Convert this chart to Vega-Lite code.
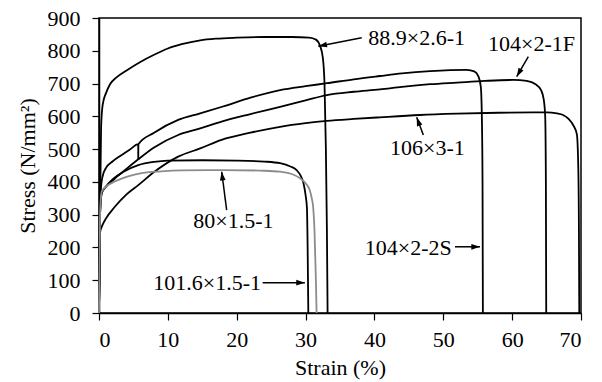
{
  "$schema": "https://vega.github.io/schema/vega-lite/v6.json",
  "width": 482,
  "height": 295,
  "autosize": {"type": "none"},
  "padding": {"left": 99, "top": 18, "right": 21, "bottom": 69},
  "background": "white",
  "config": {
    "font": "Liberation Serif",
    "view": {"stroke": "black", "strokeWidth": 1.5},
    "axis": {
      "grid": false,
      "domainColor": "black",
      "domainWidth": 1.5,
      "tickColor": "black",
      "tickWidth": 1.2,
      "tickSize": 7,
      "labelColor": "black",
      "titleColor": "black",
      "labelFont": "Liberation Serif",
      "titleFont": "Liberation Serif",
      "labelFontSize": 22,
      "titleFontSize": 22,
      "titleFontWeight": "normal",
      "labelOverlap": false
    },
    "axisY": {"labelPadding": 12, "titlePadding": 8},
    "axisX": {"labelPadding": 9, "titlePadding": 7}
  },
  "datasets": {
    "curves": [
      {"series": "88.9×2.6-1", "i": 0, "strain": 0, "stress": 0},
      {"series": "88.9×2.6-1", "i": 1, "strain": 0.15, "stress": 300},
      {"series": "88.9×2.6-1", "i": 2, "strain": 0.3, "stress": 560},
      {"series": "88.9×2.6-1", "i": 3, "strain": 0.45, "stress": 620},
      {"series": "88.9×2.6-1", "i": 4, "strain": 0.7, "stress": 652},
      {"series": "88.9×2.6-1", "i": 5, "strain": 1.0, "stress": 670},
      {"series": "88.9×2.6-1", "i": 6, "strain": 1.6, "stress": 698},
      {"series": "88.9×2.6-1", "i": 7, "strain": 2.5, "stress": 718},
      {"series": "88.9×2.6-1", "i": 8, "strain": 4, "stress": 740},
      {"series": "88.9×2.6-1", "i": 9, "strain": 6, "stress": 766},
      {"series": "88.9×2.6-1", "i": 10, "strain": 8, "stress": 788},
      {"series": "88.9×2.6-1", "i": 11, "strain": 10, "stress": 807},
      {"series": "88.9×2.6-1", "i": 12, "strain": 12, "stress": 820},
      {"series": "88.9×2.6-1", "i": 13, "strain": 14.7, "stress": 832},
      {"series": "88.9×2.6-1", "i": 14, "strain": 17, "stress": 837},
      {"series": "88.9×2.6-1", "i": 15, "strain": 20, "stress": 840},
      {"series": "88.9×2.6-1", "i": 16, "strain": 24, "stress": 842},
      {"series": "88.9×2.6-1", "i": 17, "strain": 28, "stress": 842},
      {"series": "88.9×2.6-1", "i": 18, "strain": 30.5, "stress": 840},
      {"series": "88.9×2.6-1", "i": 19, "strain": 31.5, "stress": 834},
      {"series": "88.9×2.6-1", "i": 20, "strain": 32.1, "stress": 815},
      {"series": "88.9×2.6-1", "i": 21, "strain": 32.5, "stress": 780},
      {"series": "88.9×2.6-1", "i": 22, "strain": 32.75, "stress": 700},
      {"series": "88.9×2.6-1", "i": 23, "strain": 32.95, "stress": 500},
      {"series": "88.9×2.6-1", "i": 24, "strain": 33.1, "stress": 250},
      {"series": "88.9×2.6-1", "i": 25, "strain": 33.2, "stress": 0},

      {"series": "104×2-2S", "i": 0, "strain": 0, "stress": 0},
      {"series": "104×2-2S", "i": 1, "strain": 0.15, "stress": 300},
      {"series": "104×2-2S", "i": 2, "strain": 0.25, "stress": 370},
      {"series": "104×2-2S", "i": 3, "strain": 0.5, "stress": 415},
      {"series": "104×2-2S", "i": 4, "strain": 1, "stress": 442},
      {"series": "104×2-2S", "i": 5, "strain": 2, "stress": 463},
      {"series": "104×2-2S", "i": 6, "strain": 3.3, "stress": 482},
      {"series": "104×2-2S", "i": 7, "strain": 4.5, "stress": 499},
      {"series": "104×2-2S", "i": 8, "strain": 5.7, "stress": 515},
      {"series": "104×2-2S", "i": 9, "strain": 5.7, "stress": 470},
      {"series": "104×2-2S", "i": 10, "strain": 5.72, "stress": 515},
      {"series": "104×2-2S", "i": 11, "strain": 8, "stress": 550},
      {"series": "104×2-2S", "i": 12, "strain": 11.5, "stress": 589},
      {"series": "104×2-2S", "i": 13, "strain": 14.7, "stress": 609},
      {"series": "104×2-2S", "i": 14, "strain": 18, "stress": 630},
      {"series": "104×2-2S", "i": 15, "strain": 22, "stress": 657},
      {"series": "104×2-2S", "i": 16, "strain": 26.3, "stress": 680},
      {"series": "104×2-2S", "i": 17, "strain": 30, "stress": 692},
      {"series": "104×2-2S", "i": 18, "strain": 33.1, "stress": 701},
      {"series": "104×2-2S", "i": 19, "strain": 37, "stress": 713},
      {"series": "104×2-2S", "i": 20, "strain": 40.8, "stress": 723},
      {"series": "104×2-2S", "i": 21, "strain": 44, "stress": 731},
      {"series": "104×2-2S", "i": 22, "strain": 48.1, "stress": 738},
      {"series": "104×2-2S", "i": 23, "strain": 51, "stress": 741},
      {"series": "104×2-2S", "i": 24, "strain": 53.4, "stress": 742},
      {"series": "104×2-2S", "i": 25, "strain": 54.5, "stress": 737},
      {"series": "104×2-2S", "i": 26, "strain": 55.1, "stress": 722},
      {"series": "104×2-2S", "i": 27, "strain": 55.45, "stress": 690},
      {"series": "104×2-2S", "i": 28, "strain": 55.6, "stress": 600},
      {"series": "104×2-2S", "i": 29, "strain": 55.7, "stress": 400},
      {"series": "104×2-2S", "i": 30, "strain": 55.75, "stress": 0},

      {"series": "104×2-1F", "i": 0, "strain": 0, "stress": 0},
      {"series": "104×2-1F", "i": 1, "strain": 0.15, "stress": 300},
      {"series": "104×2-1F", "i": 2, "strain": 0.4, "stress": 368},
      {"series": "104×2-1F", "i": 3, "strain": 1, "stress": 385},
      {"series": "104×2-1F", "i": 4, "strain": 2.3, "stress": 410},
      {"series": "104×2-1F", "i": 5, "strain": 4, "stress": 440},
      {"series": "104×2-1F", "i": 6, "strain": 5.7, "stress": 469},
      {"series": "104×2-1F", "i": 7, "strain": 8, "stress": 505},
      {"series": "104×2-1F", "i": 8, "strain": 11.5, "stress": 543},
      {"series": "104×2-1F", "i": 9, "strain": 14.7, "stress": 563},
      {"series": "104×2-1F", "i": 10, "strain": 17.8, "stress": 584},
      {"series": "104×2-1F", "i": 11, "strain": 22, "stress": 607},
      {"series": "104×2-1F", "i": 12, "strain": 26.3, "stress": 629},
      {"series": "104×2-1F", "i": 13, "strain": 30, "stress": 649},
      {"series": "104×2-1F", "i": 14, "strain": 33.1, "stress": 665},
      {"series": "104×2-1F", "i": 15, "strain": 37, "stress": 675},
      {"series": "104×2-1F", "i": 16, "strain": 40.8, "stress": 682},
      {"series": "104×2-1F", "i": 17, "strain": 44, "stress": 690},
      {"series": "104×2-1F", "i": 18, "strain": 48.1, "stress": 698},
      {"series": "104×2-1F", "i": 19, "strain": 52, "stress": 703},
      {"series": "104×2-1F", "i": 20, "strain": 56, "stress": 708},
      {"series": "104×2-1F", "i": 21, "strain": 60.2, "stress": 711},
      {"series": "104×2-1F", "i": 22, "strain": 62.1, "stress": 708},
      {"series": "104×2-1F", "i": 23, "strain": 63.4, "stress": 698},
      {"series": "104×2-1F", "i": 24, "strain": 64.2, "stress": 680},
      {"series": "104×2-1F", "i": 25, "strain": 64.6, "stress": 650},
      {"series": "104×2-1F", "i": 26, "strain": 64.8, "stress": 600},
      {"series": "104×2-1F", "i": 27, "strain": 64.9, "stress": 400},
      {"series": "104×2-1F", "i": 28, "strain": 64.95, "stress": 0},

      {"series": "106×3-1", "i": 0, "strain": 0, "stress": 0},
      {"series": "106×3-1", "i": 1, "strain": 0.15, "stress": 245},
      {"series": "106×3-1", "i": 2, "strain": 0.5, "stress": 268},
      {"series": "106×3-1", "i": 3, "strain": 1, "stress": 288},
      {"series": "106×3-1", "i": 4, "strain": 2.3, "stress": 324},
      {"series": "106×3-1", "i": 5, "strain": 4, "stress": 362},
      {"series": "106×3-1", "i": 6, "strain": 5.7, "stress": 390},
      {"series": "106×3-1", "i": 7, "strain": 8, "stress": 430},
      {"series": "106×3-1", "i": 8, "strain": 11.5, "stress": 477},
      {"series": "106×3-1", "i": 9, "strain": 14.7, "stress": 502},
      {"series": "106×3-1", "i": 10, "strain": 17.8, "stress": 528},
      {"series": "106×3-1", "i": 11, "strain": 22, "stress": 550},
      {"series": "106×3-1", "i": 12, "strain": 26.3, "stress": 568},
      {"series": "106×3-1", "i": 13, "strain": 30, "stress": 579},
      {"series": "106×3-1", "i": 14, "strain": 33.1, "stress": 586},
      {"series": "106×3-1", "i": 15, "strain": 37, "stress": 592},
      {"series": "106×3-1", "i": 16, "strain": 40.8, "stress": 597},
      {"series": "106×3-1", "i": 17, "strain": 46.6, "stress": 604},
      {"series": "106×3-1", "i": 18, "strain": 52, "stress": 608},
      {"series": "106×3-1", "i": 19, "strain": 58, "stress": 611},
      {"series": "106×3-1", "i": 20, "strain": 63, "stress": 612},
      {"series": "106×3-1", "i": 21, "strain": 65, "stress": 612},
      {"series": "106×3-1", "i": 22, "strain": 66.5, "stress": 609},
      {"series": "106×3-1", "i": 23, "strain": 67.4, "stress": 604},
      {"series": "106×3-1", "i": 24, "strain": 68.2, "stress": 592},
      {"series": "106×3-1", "i": 25, "strain": 68.9, "stress": 572},
      {"series": "106×3-1", "i": 26, "strain": 69.4, "stress": 545},
      {"series": "106×3-1", "i": 27, "strain": 69.6, "stress": 450},
      {"series": "106×3-1", "i": 28, "strain": 69.7, "stress": 250},
      {"series": "106×3-1", "i": 29, "strain": 69.75, "stress": 0},

      {"series": "101.6×1.5-1", "i": 0, "strain": 0, "stress": 0},
      {"series": "101.6×1.5-1", "i": 1, "strain": 0.15, "stress": 300},
      {"series": "101.6×1.5-1", "i": 2, "strain": 0.4, "stress": 365},
      {"series": "101.6×1.5-1", "i": 3, "strain": 1, "stress": 385},
      {"series": "101.6×1.5-1", "i": 4, "strain": 2, "stress": 408},
      {"series": "101.6×1.5-1", "i": 5, "strain": 3.5, "stress": 430},
      {"series": "101.6×1.5-1", "i": 6, "strain": 5.7, "stress": 451},
      {"series": "101.6×1.5-1", "i": 7, "strain": 8, "stress": 461},
      {"series": "101.6×1.5-1", "i": 8, "strain": 10, "stress": 465},
      {"series": "101.6×1.5-1", "i": 9, "strain": 15, "stress": 466},
      {"series": "101.6×1.5-1", "i": 10, "strain": 20, "stress": 465},
      {"series": "101.6×1.5-1", "i": 11, "strain": 24, "stress": 462},
      {"series": "101.6×1.5-1", "i": 12, "strain": 26.3, "stress": 457},
      {"series": "101.6×1.5-1", "i": 13, "strain": 27.8, "stress": 447},
      {"series": "101.6×1.5-1", "i": 14, "strain": 28.7, "stress": 436},
      {"series": "101.6×1.5-1", "i": 15, "strain": 29.3, "stress": 418},
      {"series": "101.6×1.5-1", "i": 16, "strain": 29.7, "stress": 396},
      {"series": "101.6×1.5-1", "i": 17, "strain": 30.0, "stress": 360},
      {"series": "101.6×1.5-1", "i": 18, "strain": 30.2, "stress": 320},
      {"series": "101.6×1.5-1", "i": 19, "strain": 30.3, "stress": 200},
      {"series": "101.6×1.5-1", "i": 20, "strain": 30.4, "stress": 0},

      {"series": "80×1.5-1", "i": 0, "strain": 0, "stress": 0},
      {"series": "80×1.5-1", "i": 1, "strain": 0.15, "stress": 300},
      {"series": "80×1.5-1", "i": 2, "strain": 0.4, "stress": 370},
      {"series": "80×1.5-1", "i": 3, "strain": 1, "stress": 385},
      {"series": "80×1.5-1", "i": 4, "strain": 2, "stress": 398},
      {"series": "80×1.5-1", "i": 5, "strain": 4, "stress": 415},
      {"series": "80×1.5-1", "i": 6, "strain": 6, "stress": 426},
      {"series": "80×1.5-1", "i": 7, "strain": 9, "stress": 432},
      {"series": "80×1.5-1", "i": 8, "strain": 12, "stress": 435},
      {"series": "80×1.5-1", "i": 9, "strain": 18, "stress": 436},
      {"series": "80×1.5-1", "i": 10, "strain": 24, "stress": 434},
      {"series": "80×1.5-1", "i": 11, "strain": 26.3, "stress": 431},
      {"series": "80×1.5-1", "i": 12, "strain": 28, "stress": 424},
      {"series": "80×1.5-1", "i": 13, "strain": 29.2, "stress": 411},
      {"series": "80×1.5-1", "i": 14, "strain": 30, "stress": 396},
      {"series": "80×1.5-1", "i": 15, "strain": 30.6, "stress": 375},
      {"series": "80×1.5-1", "i": 16, "strain": 30.9, "stress": 350},
      {"series": "80×1.5-1", "i": 17, "strain": 31.1, "stress": 324},
      {"series": "80×1.5-1", "i": 18, "strain": 31.3, "stress": 250},
      {"series": "80×1.5-1", "i": 19, "strain": 31.5, "stress": 100},
      {"series": "80×1.5-1", "i": 20, "strain": 31.6, "stress": 0}
    ],
    "notes": [
      {"label": "88.9×2.6-1", "lx": 39.1, "ly": 839, "tx": 38.15, "ty": 840, "hx": 31.85, "hy": 814},
      {"label": "104×2-1F", "lx": 56.5, "ly": 822, "tx": 62.35, "ty": 782, "hx": 60.66, "hy": 721},
      {"label": "106×3-1", "lx": 42.26, "ly": 503, "tx": 47.1, "ty": 543, "hx": 46.14, "hy": 597},
      {"label": "80×1.5-1", "lx": 13.7, "ly": 281, "tx": 18.54, "ty": 314, "hx": 17.82, "hy": 431},
      {"label": "101.6×1.5-1", "lx": 7.89, "ly": 91.5, "tx": 23.77, "ty": 92.4, "hx": 29.9, "hy": 92.4},
      {"label": "104×2-2S", "lx": 38.6, "ly": 199, "tx": 51.7, "ty": 202, "hx": 55.33, "hy": 202}
    ]
  },
  "layer": [
    {
      "data": {"name": "curves"},
      "mark": {"type": "line", "strokeWidth": 1.8, "interpolate": "monotone"},
      "encoding": {
        "x": {"field": "strain", "type": "quantitative", "title": "Strain (%)",
              "scale": {"domain": [0, 70], "nice": false},
              "axis": {"values": [0, 10, 20, 30, 40, 50, 60, 70], "labelOverlap": false}},
        "y": {"field": "stress", "type": "quantitative", "title": "Stress (N/mm²)",
              "scale": {"domain": [0, 900], "nice": false},
              "axis": {"values": [0, 100, 200, 300, 400, 500, 600, 700, 800, 900], "labelOverlap": false, "tickCount": 10}},
        "color": {"field": "series", "type": "nominal", "legend": null,
                  "scale": {"domain": ["88.9×2.6-1", "104×2-2S", "104×2-1F", "106×3-1", "101.6×1.5-1", "80×1.5-1"],
                            "range": ["#000000", "#000000", "#000000", "#000000", "#000000", "#8c8c8c"]}},
        "order": {"field": "i", "type": "quantitative"}
      }
    },
    {
      "data": {"name": "notes"},
      "mark": {"type": "rule", "color": "black", "strokeWidth": 1.5},
      "encoding": {
        "x": {"field": "tx", "type": "quantitative", "title": "Strain (%)", "scale": {"domain": [0, 70], "nice": false}},
        "y": {"field": "ty", "type": "quantitative", "title": "Stress (N/mm²)", "scale": {"domain": [0, 900], "nice": false}},
        "x2": {"field": "hx"},
        "y2": {"field": "hy"}
      }
    },
    {
      "data": {"name": "notes"},
      "transform": [{"filter": "datum.label == '88.9×2.6-1'"}],
      "mark": {"type": "point", "shape": "M0,0L-0.33,1L0.33,1Z", "filled": true, "color": "black", "opacity": 1, "size": 300, "angle": 259},
      "encoding": {
        "x": {"field": "hx", "type": "quantitative", "title": "Strain (%)", "scale": {"domain": [0, 70], "nice": false}},
        "y": {"field": "hy", "type": "quantitative", "title": "Stress (N/mm²)", "scale": {"domain": [0, 900], "nice": false}}
      }
    },
    {
      "data": {"name": "notes"},
      "transform": [{"filter": "datum.label == '104×2-1F'"}],
      "mark": {"type": "point", "shape": "M0,0L-0.33,1L0.33,1Z", "filled": true, "color": "black", "opacity": 1, "size": 300, "angle": 210},
      "encoding": {
        "x": {"field": "hx", "type": "quantitative", "title": "Strain (%)", "scale": {"domain": [0, 70], "nice": false}},
        "y": {"field": "hy", "type": "quantitative", "title": "Stress (N/mm²)", "scale": {"domain": [0, 900], "nice": false}}
      }
    },
    {
      "data": {"name": "notes"},
      "transform": [{"filter": "datum.label == '106×3-1'"}],
      "mark": {"type": "point", "shape": "M0,0L-0.33,1L0.33,1Z", "filled": true, "color": "black", "opacity": 1, "size": 300, "angle": 340},
      "encoding": {
        "x": {"field": "hx", "type": "quantitative", "title": "Strain (%)", "scale": {"domain": [0, 70], "nice": false}},
        "y": {"field": "hy", "type": "quantitative", "title": "Stress (N/mm²)", "scale": {"domain": [0, 900], "nice": false}}
      }
    },
    {
      "data": {"name": "notes"},
      "transform": [{"filter": "datum.label == '80×1.5-1'"}],
      "mark": {"type": "point", "shape": "M0,0L-0.33,1L0.33,1Z", "filled": true, "color": "black", "opacity": 1, "size": 300, "angle": 353},
      "encoding": {
        "x": {"field": "hx", "type": "quantitative", "title": "Strain (%)", "scale": {"domain": [0, 70], "nice": false}},
        "y": {"field": "hy", "type": "quantitative", "title": "Stress (N/mm²)", "scale": {"domain": [0, 900], "nice": false}}
      }
    },
    {
      "data": {"name": "notes"},
      "transform": [{"filter": "datum.label == '101.6×1.5-1' || datum.label == '104×2-2S'"}],
      "mark": {"type": "point", "shape": "M0,0L-0.33,1L0.33,1Z", "filled": true, "color": "black", "opacity": 1, "size": 300, "angle": 90},
      "encoding": {
        "x": {"field": "hx", "type": "quantitative", "title": "Strain (%)", "scale": {"domain": [0, 70], "nice": false}},
        "y": {"field": "hy", "type": "quantitative", "title": "Stress (N/mm²)", "scale": {"domain": [0, 900], "nice": false}}
      }
    },
    {
      "data": {"name": "notes"},
      "mark": {"type": "text", "align": "left", "baseline": "middle", "fontSize": 22, "font": "Liberation Serif", "color": "black"},
      "encoding": {
        "x": {"field": "lx", "type": "quantitative", "title": "Strain (%)", "scale": {"domain": [0, 70], "nice": false}},
        "y": {"field": "ly", "type": "quantitative", "title": "Stress (N/mm²)", "scale": {"domain": [0, 900], "nice": false}},
        "text": {"field": "label"}
      }
    }
  ]
}
